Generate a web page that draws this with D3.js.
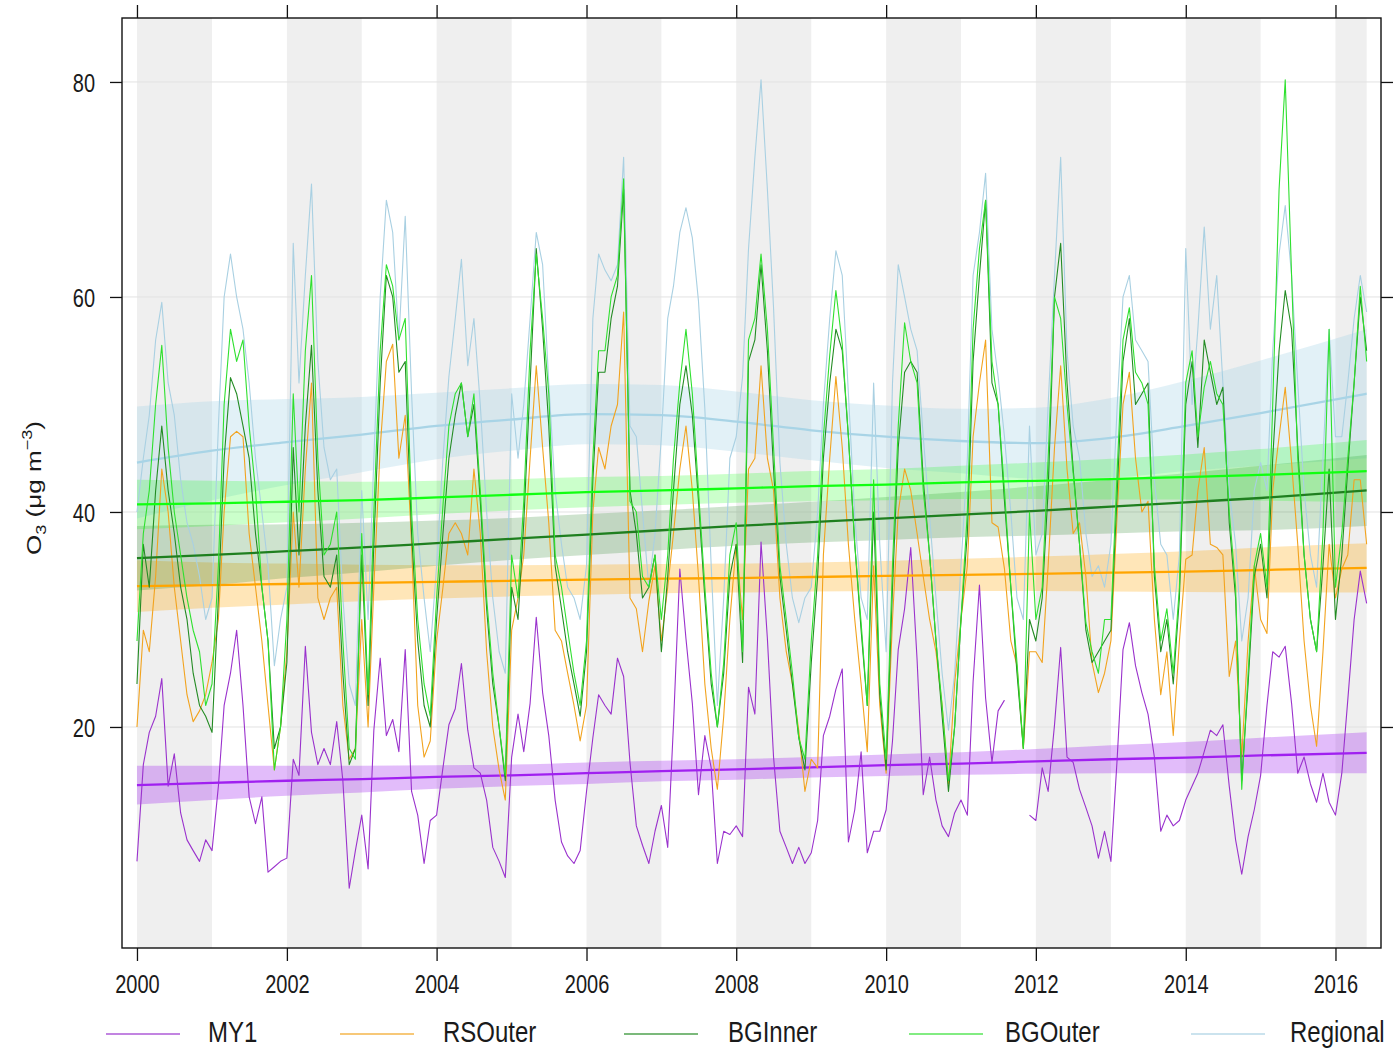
<!DOCTYPE html>
<html><head><meta charset="utf-8">
<script src="https://cdn.jsdelivr.net/npm/d3@7/dist/d3.min.js"></script>
<style>
body{margin:0;background:#fff;}
text{font-family:"Liberation Sans", Arial, sans-serif; fill:#1a1a1a;}
</style>
</head><body>
<svg id="chart" width="1396" height="1050"></svg>
<script>
// ---------------- DATA ----------------
const seriesNames = ["MY1", "RSOuter", "BGInner", "BGOuter", "Regional"];
const firstMonth = "2000-01-01"; // monthly means, Jan 2000 .. Jun 2016

const MY1 = [
 7.5,16.5,19.5,21,24.5,14.5,17.5,12,9.5,8.5,7.5,9.5,
 8.5,14.5,22,25,29,22,13.5,11,13.5,6.5,7,7.5,
 7.8,17,15.5,27.5,19.5,16.5,18,16.5,20.5,15,5,8.5,
 11.8,6.8,19.7,26.4,19.2,20.7,17.7,27.2,14,11.8,7.3,11.3,
 11.8,16.2,20.2,21.7,25.9,19.7,16.2,15.7,13.2,8.8,7.5,6,
 17.2,21.2,17.7,22.2,30.2,23.2,19.2,13.2,9.3,8,7.3,8.5,
 14,19,23,22,21.2,26.4,24.7,16.7,10.8,9,7.3,10.3,
 12.7,8.8,20.2,34.7,28.2,22.2,13.7,19.2,16.2,7.3,10.3,10,
 10.8,9.8,23.7,21.2,37.2,28.2,17.2,10.3,8.8,7.3,8.8,7.3,
 8.3,11.3,19.2,21,23.5,25.4,9.3,12.3,17.7,8.3,10.3,10.3,
 12.3,18.7,27.2,31,36.7,26.2,13.7,17.2,13.2,10.8,9.8,12,
 13.2,11.8,24.2,33.2,22.7,16.7,21.5,22.5,null,null,null,11.8,
 11.3,16.2,14,20.2,27.4,17.2,16.7,14.2,12.5,10.8,7.8,10.3,
 7.5,17.2,27.2,29.7,25.7,23.2,21.2,17.2,10.3,11.8,10.8,11.3,
 13.2,14.5,15.7,17.7,19.7,19.2,20.2,14.5,9.5,6.3,9.8,12.3,
 15.5,22,27,26.5,27.5,22.2,15.7,17.2,14.7,13,15.7,13,
 11.8,15.7,22.5,30,34.5,31.5
];
const RSOuter = [
 20,29,27,34,44,40,33,28,23,20.5,21.5,23,
 26,30,40,47,47.5,47,38,33,28,22,16,20,
 27,40,33,44,52,32,30,32,33,22,17,18,
 30,20,33,46,54,55.6,45,49,37,22,17.2,18.7,
 28,33,38,39,38,36,44,38,27,20,16,13.2,
 29,32,36,45,53.6,46,39,29,28,25,22,18.7,
 22,40,46,44,48,50,58.6,32,31,27,31.7,35,
 28,33,38,44,48,42,34,24,18,14.2,21,30,
 37,30,44,45,53.6,45,42,32,27,24,19.7,14,
 17,16.2,36,45,52.6,46,37,30,24,17.7,35,22,
 15.7,30,40,44,42,38,34,30,27,22,14.7,24,
 30,35,47,52,56,39,38.6,34.7,28,25.7,18,27,
 27,26,35,46,53.6,44,38,39,34,26,23.2,25,
 28,40,50,53,45,40,41,30,23,27,19.2,28,
 35.6,36,42,46,37,36.7,36,24.7,28,17.2,28,35,
 30,28.7,42,47,51.6,44.6,37,28,22,18.2,27,37,
 32,34.7,36,43,43,37
];
const BGInner = [
 24,37,33,42,48,42,38,33,30,25,22,21,
 19.5,32,45,52.5,51,48,45,38,33,28,18,20,
 26,46,36,48,55.5,42,34,33,36,25,16.5,18,
 36,22,37,52,62,60,53,54,38,28,22,20,
 30,38,45,49,52,47,50,41,31,24,20,15,
 33,30,39,52,64.5,57,48,35,31,27,24,21,
 27,43,53,53,58,61,70,42,38,32,33,36,
 27,34,42,50,53.6,49,41,32,24,20,25,34,
 37,26,54,56,63,55,44,34,29,24,19,16,
 26,34,45,52,57,55,47,37,29,22,40,23,
 16,33,46,53,54,53,43,36,28,21,14,20,
 30,38,54,62,69,52,50,41,33,25,18,30,
 28,32,42,60,65,52,44,37,29,26,27,28,
 29,42,54,58,50,51,52,34,27,30,24,32,
 50,54,46,56,53,50,51.6,39,32,15,24,34,
 37,32,45,55,60.6,57,46,36,30,27,35,44,
 30,36,44,52,60,55
];
const BGOuter = [
 28,38,42,50,55.5,46,40,36,32,29,27,22,
 24,35,50,57,54,56,48,42,33,28,16,20,
 30,51,40,55,62,45,36,37,40,28,18,17,
 38,23,40,55,63,61,56,58,40,30,24,21,
 32,40.6,48,51,52,47,51,42,32,25,20,15.5,
 36,32,41,55,64,58,51,36,33,29,25,22,
 28,45,55,55,60,62,71,41,40,34,33,36,
 30,36,45,52,57,51,42,33,25,20,26,36,
 39,27,56,58,64,57,46,35,30,25,19,17,
 28,36,47,54.6,60.6,55.6,47,37,29.7,22,43,24,
 17,35,48,57.6,54,52,42,36,28,22,15,20,
 30,40,57,64.5,69,54,50,42,33,26,18,40,
 30,33,45,60,58,50,43.6,37,29.7,27,25,30,
 30,44,56,59,53,52,50,35,28,31,25,33,
 52,55,47,51.6,54,51,50,40,33,14.2,25,35,
 38,33,50,70,80.2,62,45,36,30,27,38,57,
 33,38,45,52,61,54
];
const Regional = [
 40,45,49,56,59.5,52,49,43,39,37,34,30,
 32,48,60,64,60,57,52,45,40,35,25.7,30,
 33,65,52,62,70.5,54,46,43,44,32,24,22,
 42,30,45,60,69,66,56,67.5,51,38,32,27,
 35,45,52.6,58,63.5,53.6,58,50,40,32,27,25,
 51,45,50,58,66,63,52,42,37,33,32,30,
 35,58,64,62.5,61.5,63,73,48,47,40,33,38,
 47,58,61,66,68.3,65.5,59.6,49.6,35,22,32,45,
 47,52.6,64.5,73,80.2,70,59,44.6,37,32,29.7,32,
 33,40,50,58,64.3,62,51,39.6,32,30,52,37,
 27,52,63,60,57,55,47,39.6,32,25,19.7,25,
 35,45,62,66,71.5,57,52.6,47,40,32,30,48,
 36,38,50,62,73,55,48,45,38,34,35,33,
 37,50,60,62,56,55,54,43,37,36,30,36,
 64.5,50,57,66.5,57,62,52,42,37,28,32,42,
 44.6,42,55,64,68.5,62,52,42,36,33,45,57,
 47,47,52,58,62,58.6
];

// smooth trend (with 95% interval half-widths) at knot dates
const trendKnots = ["2000-01-01","2001-01-01","2002-01-01","2003-01-01","2004-01-01","2005-01-01",
 "2006-01-01","2007-01-01","2008-01-01","2009-01-01","2010-01-01","2011-01-01","2012-01-01",
 "2013-01-01","2014-01-01","2015-01-01","2016-06-01"];
const trendMY1      = [14.6,14.8,15.0,15.15,15.35,15.5,15.7,15.9,16.05,16.25,16.45,16.6,16.8,17.0,17.15,17.35,17.6];
const trendRSOuter  = [33.1,33.2,33.3,33.4,33.5,33.6,33.7,33.8,33.85,33.95,34.05,34.15,34.25,34.35,34.45,34.6,34.8];
const trendBGInner  = [35.7,36.0,36.35,36.7,37.1,37.5,37.9,38.3,38.7,39.05,39.4,39.75,40.1,40.5,40.9,41.3,42.0];
const trendBGOuter  = [40.7,40.8,40.95,41.1,41.35,41.6,41.85,42.0,42.2,42.4,42.55,42.75,42.9,43.05,43.25,43.45,43.8];
const trendRegional = [44.6,45.7,46.5,47.2,48.0,48.6,49.1,49.0,48.4,47.6,47.0,46.6,46.4,46.9,48.0,49.2,51.0];
const ciMY1      = [1.8,1.6,1.4,1.25,1.1,1.0,1.0,0.95,0.95,0.95,1.0,1.05,1.15,1.3,1.45,1.65,1.9];
const ciRSOuter  = [2.4,2.1,1.9,1.7,1.55,1.45,1.4,1.35,1.35,1.35,1.4,1.5,1.6,1.75,1.9,2.1,2.3];
const ciBGInner  = [3.0,2.8,2.5,2.3,2.1,1.95,1.9,1.85,1.85,1.9,2.0,2.1,2.3,2.5,2.7,3.0,3.3];
const ciBGOuter  = [2.3,2.1,1.9,1.7,1.55,1.45,1.4,1.35,1.35,1.4,1.45,1.55,1.7,1.9,2.1,2.4,2.9];
const ciRegional = [5.2,4.6,4.0,3.5,3.1,2.9,2.8,2.8,2.8,2.8,2.9,3.0,3.3,3.7,4.2,4.9,6.0];

const yTickValues = [20, 40, 60, 80];
const xTickYears = [2000,2002,2004,2006,2008,2010,2012,2014,2016];
const shadedYears = [2000,2002,2004,2006,2008,2010,2012,2014,2016];
const yLabel = {main: "O", sub: "3", rest: " (\u03bcg m", sup: "\u22123", close: ")"};

// ---------------- STYLE ----------------
const rawColor   = {MY1:"#9a32cd", RSOuter:"#f2a31e", BGInner:"#238b23", BGOuter:"#2ee02e", Regional:"#a9d0e2"};
const trendColor = {MY1:"#a020f0", RSOuter:"#ffa500", BGInner:"#1f7f1f", BGOuter:"#11ff11", Regional:"#a8d4e6"};
const bandOpacity = {MY1:0.3, RSOuter:0.28, BGInner:0.22, BGOuter:0.22, Regional:0.33};
const legendLineX = [106, 340, 624, 909, 1191];
const legendTextX = [208, 443, 728, 1005, 1290];

const raw = {MY1, RSOuter, BGInner, BGOuter, Regional};
const trend = {MY1:trendMY1, RSOuter:trendRSOuter, BGInner:trendBGInner, BGOuter:trendBGOuter, Regional:trendRegional};
const ci = {MY1:ciMY1, RSOuter:ciRSOuter, BGInner:ciBGInner, BGOuter:ciBGOuter, Regional:ciRegional};

const svg = d3.select("#chart");
const L = 122, R = 1381, T = 18, B = 948;
const parse = d3.utcParse("%Y-%m-%d");
const t0 = parse(firstMonth);
const dataEnd = d3.utcMonth.offset(t0, MY1.length - 1);

const x = d3.scaleUtc()
  .domain([new Date(Date.UTC(1999, 9, 20)), new Date(Date.UTC(2016, 7, 10))])
  .range([L, R]);
const y = d3.scaleLinear().domain([-0.56, 85.95]).range([B, T]);

// background year shading
const bg = svg.append("g");
shadedYears.forEach(yr => {
  const a = new Date(Date.UTC(yr, 0, 1));
  let b = new Date(Date.UTC(yr + 1, 0, 1));
  if (b > dataEnd) b = dataEnd;
  bg.append("rect").attr("x", x(a)).attr("y", T).attr("width", x(b) - x(a)).attr("height", B - T)
    .attr("fill", "#efefef");
});
// grid
svg.append("g").selectAll("line").data(yTickValues).join("line")
  .attr("x1", L).attr("x2", R).attr("y1", d => y(d)).attr("y2", d => y(d))
  .attr("stroke", "#e2e2e2").attr("stroke-width", 1);

// CI bands
const knotDates = trendKnots.map(parse);
const bandG = svg.append("g");
const area = d3.area().curve(d3.curveMonotoneX).x(d => x(d.t)).y0(d => y(d.lo)).y1(d => y(d.hi));
const drawOrder = ["Regional", "MY1", "RSOuter", "BGInner", "BGOuter"];
drawOrder.forEach(s => {
  const pts = knotDates.map((t, k) => ({t, lo: trend[s][k] - ci[s][k], hi: trend[s][k] + ci[s][k]}));
  bandG.append("path").attr("d", area(pts)).attr("fill", trendColor[s]).attr("fill-opacity", bandOpacity[s]);
});

// raw lines + trends
const line = d3.line().defined(d => d.v != null).x(d => x(d.t)).y(d => y(d.v));
const smooth = d3.line().curve(d3.curveMonotoneX).x(d => x(d.t)).y(d => y(d.v));
drawOrder.forEach(s => {
  const pts = raw[s].map((v, i) => ({t: d3.utcMonth.offset(t0, i), v}));
  svg.append("path").attr("d", line(pts)).attr("fill", "none")
    .attr("stroke", rawColor[s]).attr("stroke-width", 1.1).attr("stroke-linejoin", "round");
  const tp = knotDates.map((t, k) => ({t, v: trend[s][k]}));
  svg.append("path").attr("d", smooth(tp)).attr("fill", "none")
    .attr("stroke", trendColor[s]).attr("stroke-width", 2.3);
});

// frame
svg.append("rect").attr("x", L).attr("y", T).attr("width", R - L).attr("height", B - T)
  .attr("fill", "none").attr("stroke", "#111").attr("stroke-width", 1.4);

// axes
const xTicks = xTickYears.map(yr => new Date(Date.UTC(yr, 0, 1)));
const fmtYear = d3.utcFormat("%Y");
const sy = 1.3; // vertical stretch of text in the reference
const gx = svg.append("g").attr("transform", `translate(0,${B})`)
  .call(d3.axisBottom(x).tickValues(xTicks).tickFormat(fmtYear).tickSizeInner(13).tickSizeOuter(0));
const gxt = svg.append("g").attr("transform", `translate(0,${T})`)
  .call(d3.axisTop(x).tickValues(xTicks).tickFormat("").tickSizeInner(13).tickSizeOuter(0));
const gy = svg.append("g").attr("transform", `translate(${L},0)`)
  .call(d3.axisLeft(y).tickValues(yTickValues).tickSizeInner(12).tickSizeOuter(0));
const gyr = svg.append("g").attr("transform", `translate(${R},0)`)
  .call(d3.axisRight(y).tickValues(yTickValues).tickFormat("").tickSizeInner(12).tickSizeOuter(0));
[gx, gxt, gy, gyr].forEach(g => {
  g.select(".domain").remove();
  g.selectAll(".tick line").attr("stroke", "#111").attr("stroke-width", 1.3);
});
gx.selectAll(".tick text").attr("y", null).attr("dy", null)
  .attr("transform", `translate(0,45) scale(1,${sy})`)
  .style("font-size", "20px").attr("fill", "#1a1a1a");
gy.selectAll(".tick text").attr("x", null).attr("dy", null)
  .attr("transform", `translate(-27,9.3) scale(1,${sy})`)
  .attr("text-anchor", "end").style("font-size", "20px").attr("fill", "#1a1a1a");

// y label
const yl = svg.append("text").attr("transform", `translate(41,488) rotate(-90) scale(${sy},1)`)
  .attr("text-anchor", "middle").style("font-size", "20px");
yl.append("tspan").text(yLabel.main);
yl.append("tspan").text(yLabel.sub).attr("dy", 5).style("font-size", "14px");
yl.append("tspan").text(yLabel.rest).attr("dy", -5);
yl.append("tspan").text(yLabel.sup).attr("dy", -9).style("font-size", "14px");
yl.append("tspan").text(yLabel.close).attr("dy", 9);

// legend
const lg = svg.append("g");
const ly = 1034;
seriesNames.forEach((s, k) => {
  lg.append("line").attr("x1", legendLineX[k]).attr("x2", legendLineX[k] + 74).attr("y1", ly).attr("y2", ly)
    .attr("stroke", rawColor[s]).attr("stroke-width", 2).attr("stroke-opacity", 0.6);
  lg.append("text").attr("transform", `translate(${legendTextX[k]},${ly + 8}) scale(1,1.2)`)
    .style("font-size", "24px").text(s);
});
</script>
</body></html>
